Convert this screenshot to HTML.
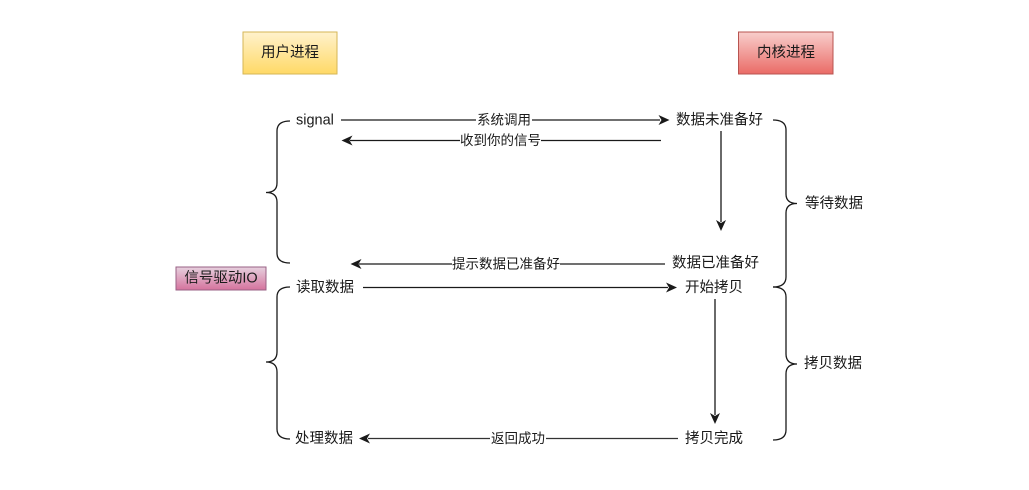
<!DOCTYPE html>
<html>
<head>
<meta charset="utf-8">
<style>
html,body{margin:0;padding:0;background:#fff;}
svg{display:block;}
text{font-family:"Liberation Sans","Noto Sans CJK SC",sans-serif;fill:#1a1a1a;}
</style>
</head>
<body>
<svg width="1029" height="490" viewBox="0 0 1029 490" xmlns="http://www.w3.org/2000/svg">
<defs>
<linearGradient id="gy" x1="0" y1="0" x2="0" y2="1">
<stop offset="0" stop-color="#fff2cc"/><stop offset="1" stop-color="#ffd966"/>
</linearGradient>
<linearGradient id="gr" x1="0" y1="0" x2="0" y2="1">
<stop offset="0" stop-color="#f8cecc"/><stop offset="1" stop-color="#ea6b66"/>
</linearGradient>
<linearGradient id="gp" x1="0" y1="0" x2="0" y2="1">
<stop offset="0" stop-color="#e6d0de"/><stop offset="1" stop-color="#d5739d"/>
</linearGradient>
</defs>

<!-- header boxes -->
<rect x="243" y="32" width="94" height="42" fill="url(#gy)" stroke="#d6b656" stroke-width="1"/>
<text x="290" y="53" font-size="14.5" text-anchor="middle" dominant-baseline="central">用户进程</text>
<rect x="738.5" y="32" width="94.5" height="42" fill="url(#gr)" stroke="#b85450" stroke-width="1"/>
<text x="786" y="53" font-size="14.5" text-anchor="middle" dominant-baseline="central">内核进程</text>

<rect x="176" y="267" width="90" height="23" fill="url(#gp)" stroke="#996185" stroke-width="1"/>
<text x="221" y="278.5" font-size="14.5" text-anchor="middle" dominant-baseline="central">信号驱动IO</text>

<!-- braces -->
<g fill="none" stroke="#1a1a1a" stroke-width="1.3">
<path d="M290 121 Q277 121 277 131 L277 183 Q277 192.5 266 192.5 Q277 192.5 277 202 L277 253 Q277 263 290 263"/>
<path d="M290 287 Q277 287 277 297 L277 352 Q277 362 266 362 Q277 362 277 372 L277 429 Q277 439 290 439"/>
<path d="M773 120 Q786 120 786 130 L786 194 Q786 203.5 797 203.5 Q786 203.5 786 213 L786 277 Q786 287 773 287"/>
<path d="M773 287 Q786 287 786 297 L786 354 Q786 364 797 364 Q786 364 786 374 L786 430 Q786 440 773 440"/>
</g>

<!-- lines -->
<g stroke="#1a1a1a" stroke-width="1.3" fill="none">
<line x1="341" y1="120" x2="660" y2="120"/>
<line x1="661" y1="140.5" x2="350" y2="140.5"/>
<line x1="721" y1="131" x2="721" y2="222"/>
<line x1="665" y1="264" x2="359" y2="264"/>
<line x1="363" y1="287.5" x2="668" y2="287.5"/>
<line x1="715" y1="299" x2="715" y2="415"/>
<line x1="678" y1="438.5" x2="368" y2="438.5" stroke="#333"/>
</g>

<!-- arrowheads -->
<g fill="#1a1a1a">
<path d="M669.5 120 L658.5 115 L661.5 120 L658.5 125 Z"/>
<path d="M341.5 140.5 L352.5 135.5 L349.5 140.5 L352.5 145.5 Z"/>
<path d="M721 231 L716 220 L721 223 L726 220 Z"/>
<path d="M350.5 264 L361.5 259 L358.5 264 L361.5 269 Z"/>
<path d="M677 287.5 L666 282.5 L669 287.5 L666 292.5 Z"/>
<path d="M715 424 L710 413 L715 416 L720 413 Z"/>
<path d="M359 438.5 L370 433.5 L367 438.5 L370 443.5 Z"/>
</g>

<!-- edge labels -->
<g font-size="13.5">
<rect x="476" y="112" width="56" height="16" fill="#fff"/>
<text x="504" y="120" text-anchor="middle" dominant-baseline="central">系统调用</text>
<rect x="460" y="132" width="81" height="17" fill="#fff"/>
<text x="500.5" y="140.5" text-anchor="middle" dominant-baseline="central">收到你的信号</text>
<rect x="452" y="256" width="108" height="17" fill="#fff"/>
<text x="506" y="264" text-anchor="middle" dominant-baseline="central">提示数据已准备好</text>
<rect x="490" y="430" width="56" height="17" fill="#fff"/>
<text x="518" y="438.5" text-anchor="middle" dominant-baseline="central">返回成功</text>
</g>

<!-- node labels -->
<g font-size="14.5" dominant-baseline="central">
<text x="296" y="120.5" dominant-baseline="central">signal</text>
<text x="676" y="120.5" dominant-baseline="central">数据未准备好</text>
<text x="672" y="263.5" dominant-baseline="central">数据已准备好</text>
<text x="296" y="288" dominant-baseline="central">读取数据</text>
<text x="685" y="288" dominant-baseline="central">开始拷贝</text>
<text x="295" y="439" dominant-baseline="central">处理数据</text>
<text x="685" y="439" dominant-baseline="central">拷贝完成</text>
<text x="805" y="204" dominant-baseline="central">等待数据</text>
<text x="804" y="364" dominant-baseline="central">拷贝数据</text>
</g>
</svg>
</body>
</html>
